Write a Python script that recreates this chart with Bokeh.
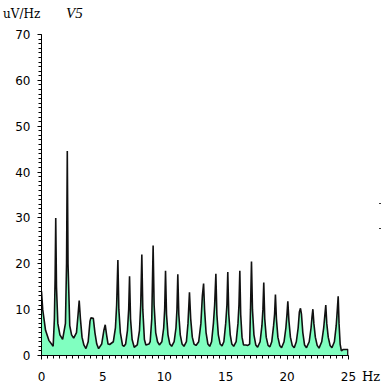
from bokeh.plotting import figure
from bokeh.models import SingleIntervalTicker, Div
from bokeh.layouts import column, row
from bokeh.embed import file_html
from bokeh.resources import INLINE

# Spectrum (frequency in Hz, amplitude in uV/Hz)
freq_hz = [
    0.00, 0.10, 0.33, 0.60, 0.95,
    1.05, 1.11, 1.16, 1.22, 1.33, 1.50, 1.72,
    1.95, 2.04, 2.10, 2.16, 2.30, 2.45, 2.62,
    2.85, 2.98, 3.07, 3.17, 3.30, 3.45, 3.62,
    3.80, 3.95, 4.02, 4.22, 4.35, 4.50, 4.65,
    4.90, 5.08, 5.19, 5.30, 5.42, 5.55,
    5.85, 6.02, 6.12, 6.22, 6.30, 6.42, 6.60, 6.72,
    6.85, 7.00, 7.10, 7.17, 7.25, 7.38, 7.55,
    7.80, 7.98, 8.08, 8.17, 8.25, 8.38, 8.50, 8.75,
    8.85, 8.98, 9.09, 9.17, 9.30, 9.45, 9.60,
    9.80, 9.95, 10.03, 10.10, 10.18, 10.30, 10.45, 10.60,
    10.80, 10.95, 11.03, 11.10, 11.18, 11.30, 11.45, 11.60,
    11.80, 11.93, 12.05, 12.15, 12.28, 12.42, 12.58,
    12.80, 12.98, 13.10, 13.20, 13.28, 13.40, 13.55, 13.70,
    13.85, 14.00, 14.10, 14.20, 14.28, 14.40, 14.55, 14.70,
    14.85, 15.00, 15.10, 15.17, 15.25, 15.37, 15.50, 15.65,
    15.85, 16.00, 16.08, 16.15, 16.22, 16.33, 16.45, 16.65, 16.80,
    16.95, 17.02, 17.10, 17.18, 17.30, 17.45, 17.60,
    17.80, 17.95, 18.03, 18.10, 18.18, 18.30, 18.45, 18.60,
    18.75, 18.90, 18.98, 19.05, 19.13, 19.25, 19.40, 19.55,
    19.75, 19.90, 19.99, 20.06, 20.15, 20.27, 20.42, 20.58,
    20.75, 20.90, 21.00, 21.09, 21.17, 21.28, 21.42, 21.58,
    21.80, 21.95, 22.03, 22.10, 22.18, 22.30, 22.45, 22.60,
    22.82, 22.98, 23.08, 23.15, 23.23, 23.35, 23.50, 23.65,
    23.85, 24.00, 24.09, 24.16, 24.23, 24.32, 24.42, 24.55, 24.95, 24.95,
]
amp_uv = [
    14.0, 10.0, 5.5, 3.3, 2.0,
    8.0, 17.0, 30.0, 15.0, 7.0, 4.5, 3.5,
    7.0, 20.0, 44.6, 20.0, 6.5, 4.5, 3.8,
    5.0, 9.0, 12.0, 8.0, 4.0, 2.3, 1.5,
    3.0, 7.5, 8.2, 8.1, 5.0, 2.5, 1.5,
    2.5, 5.5, 6.7, 4.5, 2.5, 2.4,
    3.0, 6.0, 11.0, 20.8, 10.0, 5.0, 2.2, 2.0,
    2.5, 5.5, 10.0, 17.3, 8.0, 3.5, 1.8,
    2.3, 5.5, 11.0, 22.0, 10.0, 3.5, 2.3, 2.5,
    3.0, 8.0, 24.0, 11.0, 5.0, 3.0, 2.3,
    3.0, 6.0, 10.0, 18.5, 9.0, 4.5, 2.5, 2.0,
    3.0, 6.0, 10.0, 17.7, 9.0, 4.5, 2.5, 2.0,
    3.0, 7.0, 13.8, 8.0, 4.0, 2.5, 2.2,
    3.0, 7.0, 13.0, 15.7, 10.0, 5.0, 2.5, 2.0,
    3.0, 7.0, 11.0, 17.8, 9.0, 4.5, 2.5, 2.1,
    3.0, 7.0, 11.0, 18.2, 9.0, 4.5, 2.5, 2.0,
    3.0, 7.0, 11.0, 18.5, 9.0, 4.0, 2.3, 2.3, 2.2,
    2.5, 10.0, 20.5, 10.0, 4.5, 2.3, 1.8,
    3.0, 6.5, 10.0, 15.9, 8.0, 4.0, 2.2, 1.9,
    3.0, 6.5, 9.0, 13.3, 8.0, 4.0, 2.2, 1.7,
    3.0, 6.0, 9.0, 11.8, 7.5, 4.0, 2.2, 1.7,
    3.0, 6.0, 9.5, 10.3, 9.0, 5.0, 2.3, 1.7,
    3.0, 6.0, 8.5, 10.1, 7.0, 4.0, 2.2, 1.6,
    3.0, 6.0, 9.0, 11.0, 7.0, 4.0, 2.2, 1.7,
    3.0, 6.5, 10.0, 12.9, 7.0, 2.5, 1.0, 1.3, 1.3, 0.0,
]
assert len(freq_hz) == len(amp_uv)

x_range = (0, 25)
y_range = (0, 70)
y_unit = "uV/Hz"
lead_name = "V5"
x_unit = "Hz"

p = figure(width=361, height=360, x_range=x_range, y_range=y_range,
           output_backend="svg", toolbar_location=None,
           min_border_left=41, min_border_right=13,
           min_border_top=8, min_border_bottom=31, margin=0)
p.outline_line_color = None
p.xgrid.visible = False
p.ygrid.visible = False
p.background_fill_color = "white"
p.border_fill_color = "white"

p.varea(x=freq_hz, y1=0, y2=amp_uv, fill_color="#80FFC0")
p.line(freq_hz, amp_uv, line_color="#111111", line_width=1.6)

p.xaxis.ticker = SingleIntervalTicker(interval=5, num_minor_ticks=10)
p.yaxis.ticker = SingleIntervalTicker(interval=10, num_minor_ticks=10)
for ax in (p.xaxis[0], p.yaxis[0]):
    ax.axis_line_color = "black"
    ax.major_tick_line_color = "black"
    ax.minor_tick_line_color = "black"
    ax.major_tick_in = 0
    ax.major_tick_out = 4
    ax.minor_tick_in = 0
    ax.minor_tick_out = 3
    ax.major_label_text_font = "DejaVu Sans"
    ax.major_label_text_font_size = "12px"
    ax.major_label_text_color = "black"
p.yaxis.major_label_standoff = 7
p.xaxis.major_label_standoff = 12

serif = "font-family:'DejaVu Serif';font-size:12px;line-height:16px;color:black;"
header = Div(
    text=(
        '<div style="position:relative;width:375px;height:26px">'
        '<span style="position:absolute;left:3px;top:6px;' + serif + '">' + y_unit + '</span>'
        '<span style="position:absolute;left:66px;top:5px;font-family:\'Liberation Serif\';'
        'font-style:italic;font-size:15px;line-height:16px;color:black">' + lead_name + '</span>'
        '</div>'
    ),
    width=375, height=26, margin=0,
)
hz_div = Div(
    text=(
        '<div style="position:relative;width:22px;height:360px">'
        '<span style="position:absolute;left:18px;top:177px;width:2px;height:1px;background:#333"></span>'
        '<span style="position:absolute;left:18px;top:202px;width:2px;height:1px;background:#333"></span>'
        '<span style="position:absolute;left:1px;top:343px;' + serif + 'font-size:13px">' + x_unit + '</span>'
        '</div>'
    ),
    width=22, height=360, margin=0,
)

layout = column(header, row(p, hz_div, spacing=0, margin=0), spacing=0, margin=0)

open("out.html", "w").write(file_html(layout, INLINE))
